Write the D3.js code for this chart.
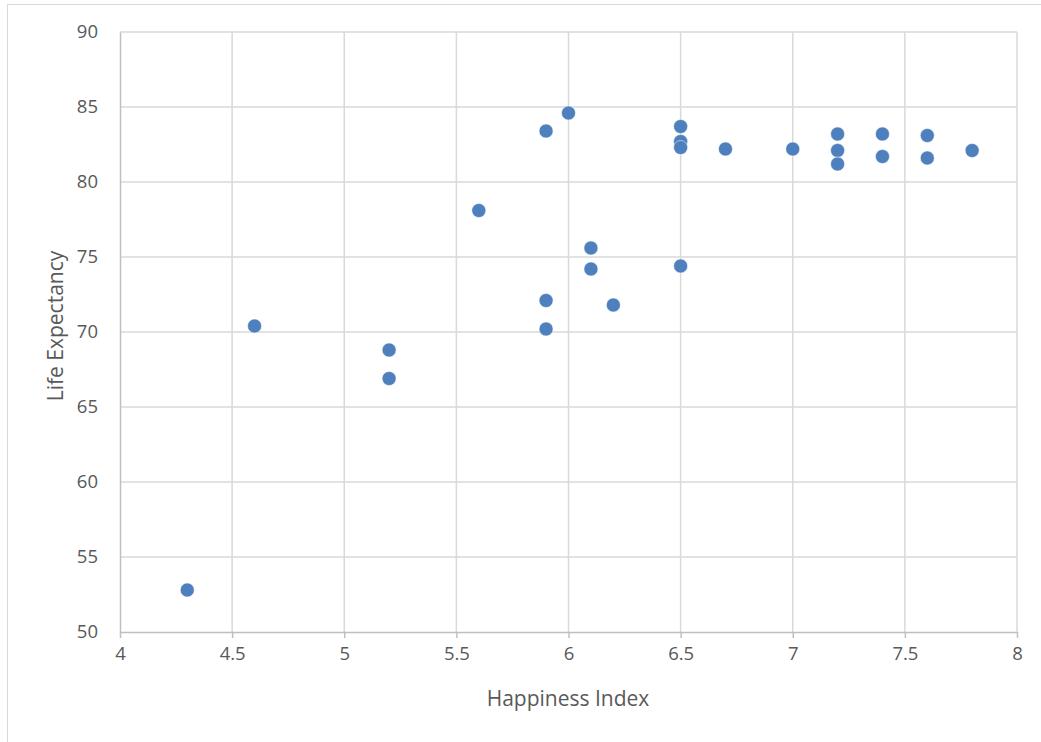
<!DOCTYPE html>
<html><head><meta charset="utf-8">
<script src="https://cdn.jsdelivr.net/npm/d3@7"></script>
<style>body{margin:0;background:#fff;} text{font-family:"Open Sans","Noto Sans",sans-serif;}</style>
</head><body>
<svg id="c" width="1041" height="742"></svg>
<script>
const happiness = [4.3,4.6,5.2,5.2,5.6,5.9,6.0,5.9,5.9,6.1,6.1,6.2,6.5,6.5,6.5,6.5,6.7,7.0,7.2,7.2,7.2,7.4,7.4,7.6,7.6,7.8];
const lifeExpectancy = [52.8,70.4,68.8,66.9,78.1,83.4,84.6,72.1,70.2,75.6,74.2,71.8,74.4,83.7,82.7,82.3,82.2,82.2,83.2,82.1,81.2,83.2,81.7,83.1,81.6,82.1];
const xTicks = [4,4.5,5,5.5,6,6.5,7,7.5,8];
const yTicks = [50,55,60,65,70,75,80,85,90];
const xTitle = "Happiness Index", yTitle = "Life Expectancy";

const svg = d3.select("#c");
svg.append("rect").attr("x",7.5).attr("y",4.5).attr("width",1040).attr("height",745)
  .attr("fill","#fff").attr("stroke","#d9d9d9");
const x = d3.scaleLinear().domain([4,8]).range([120,1017]);
const y = d3.scaleLinear().domain([50,90]).range([632,32]);

// grid
svg.append("g").selectAll("line").data(xTicks.slice(1)).join("line")
  .attr("x1",d=>x(d)).attr("x2",d=>x(d)).attr("y1",32).attr("y2",632)
  .attr("stroke","#d9d9d9").attr("stroke-width",1.5);
svg.append("g").selectAll("line").data(yTicks.slice(1)).join("line")
  .attr("x1",120).attr("x2",1017).attr("y1",d=>y(d)).attr("y2",d=>y(d))
  .attr("stroke","#d9d9d9").attr("stroke-width",1.5);

const xa = svg.append("g").attr("transform","translate(0,632)")
  .call(d3.axisBottom(x).tickValues(xTicks).tickSize(6).tickSizeOuter(0).tickPadding(9).tickFormat(d=>String(d)));
xa.select(".domain").attr("stroke","#bfbfbf").attr("stroke-width",1.5);
xa.selectAll(".tick line").attr("stroke","#bfbfbf").attr("stroke-width",1.5);
xa.selectAll("text").attr("fill","#595959").attr("font-size",18.5).style("font-family","'Open Sans'");

const ya = svg.append("g").attr("transform","translate(120,0)")
  .call(d3.axisLeft(y).tickValues(yTicks).tickSize(0).tickSizeOuter(0).tickPadding(22).tickFormat(d=>String(d)));
ya.select(".domain").attr("stroke","#bfbfbf").attr("stroke-width",1.5);
ya.selectAll("text").attr("fill","#595959").attr("font-size",18.5).style("font-family","'Open Sans'");

svg.append("g").selectAll("circle").data(happiness.map((h,i)=>[h,lifeExpectancy[i]])).join("circle")
  .attr("cx",d=>x(d[0])).attr("cy",d=>y(d[1])).attr("r",7)
  .attr("fill","#4e80bd").attr("stroke","#fff").attr("stroke-width",0.5);

svg.append("text").attr("x",568).attr("y",706).attr("text-anchor","middle")
  .attr("fill","#595959").attr("font-size",21).text(xTitle);
svg.append("text").attr("transform","translate(63,326) rotate(-90)").attr("text-anchor","middle")
  .attr("fill","#595959").attr("font-size",21).text(yTitle);
</script>
</body></html>
